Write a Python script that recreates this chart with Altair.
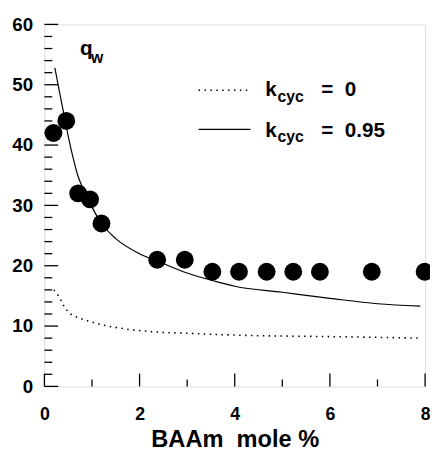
import altair as alt
import pandas as pd

# data points (BAAm mole %, q_w)
dots_x = [0.19, 0.46, 0.71, 0.96, 1.2, 2.37, 2.95, 3.53, 4.09, 4.67, 5.23, 5.79, 6.88, 7.99]
dots_y = [42, 44, 32, 31, 27, 21, 21, 19, 19, 19, 19, 19, 19, 19]

# k_cyc = 0.95 (solid)
solid_x = [0.22, 0.3, 0.4, 0.5, 0.6, 0.7, 0.8, 0.95, 1.2, 1.5, 2.0, 2.4, 3.0, 3.6, 4.0, 5.0, 6.0, 7.0, 7.9]
solid_y = [52.8, 49.5, 45.5, 41.5, 38.0, 35.0, 33.0, 30.5, 27.0, 24.5, 22.0, 20.7, 18.8, 17.4, 16.6, 15.6, 14.6, 13.7, 13.3]

# k_cyc = 0 (dotted)
dot_x = [0.2, 0.3, 0.43, 0.55, 0.7, 0.9, 1.1, 1.4, 1.8, 2.2, 2.6, 3.0, 3.6, 4.5, 5.5, 6.5, 7.9]
dot_y = [16.0, 15.0, 13.0, 12.0, 11.4, 10.9, 10.4, 9.9, 9.4, 9.1, 8.9, 8.8, 8.6, 8.4, 8.3, 8.2, 8.0]

# tick positions
x_major = [0, 2, 4, 6, 8]
x_minor = [1, 3, 5, 7]
y_major = [0, 10, 20, 30, 40, 50, 60]
y_minor = [2, 4, 6, 8, 12, 14, 16, 18, 22, 24, 26, 28, 32, 34, 36, 38, 42, 44, 46, 48, 52, 54, 56, 58]

# legend / label text
NB = "\u00a0"
legend_big = ["k", "=" + NB + NB + "0", "k", "=" + NB + NB + "0.95", "q"]
legend_big_x = [4.64, 5.82, 4.64, 5.82, 0.75]
legend_big_y = [48.1, 48.1, 41.4, 41.4, 55.0]
legend_small = ["cyc", "cyc", "w"]
legend_small_x = [4.9, 4.9, 0.98]
legend_small_y = [47.2, 40.5, 53.6]
legend_line_x = [3.24, 3.24]
legend_line_x2 = [4.33, 4.33]
legend_line_y = [49.1, 42.6]

FONT = "Liberation Sans"
W, H = 387, 368

xs = alt.Scale(domain=[0, 8], nice=False)
ys = alt.Scale(domain=[0, 60], nice=False)

x_axis = alt.Axis(values=x_major, format="d", ticks=False, grid=False, domain=False,
                  labelFont=FONT, labelFontWeight="bold", labelFontSize=18, labelPadding=20,
                  labelColor="black", title="BAAm" + NB + NB + "mole %", titleFont=FONT,
                  titleFontWeight="bold", titleFontSize=24, titleColor="black", titleY=61,
                  titleBaseline="alphabetic", labelFlush=False)
y_axis = alt.Axis(values=y_major, format="d", ticks=False, grid=False, domain=False,
                  labelFont=FONT, labelFontWeight="bold", labelFontSize=19, labelPadding=12,
                  labelColor="black", title=None, labelFlush=False)

df_dots = pd.DataFrame({"x": dots_x, "y": dots_y})
df_solid = pd.DataFrame({"x": solid_x, "y": solid_y})
df_dotted = pd.DataFrame({"x": dot_x, "y": dot_y})

base_axes = alt.Chart(df_dots).mark_point(opacity=0).encode(
    x=alt.X("x:Q", scale=xs, axis=x_axis),
    y=alt.Y("y:Q", scale=ys, axis=y_axis),
)

dotted = alt.Chart(df_dotted).mark_line(color="black", strokeWidth=1.6, strokeDash=[1.5, 4.5]).encode(
    x=alt.X("x:Q", scale=xs), y=alt.Y("y:Q", scale=ys))
solid = alt.Chart(df_solid).mark_line(color="black", strokeWidth=1.2, interpolate="monotone").encode(
    x=alt.X("x:Q", scale=xs), y=alt.Y("y:Q", scale=ys))
points = alt.Chart(df_dots).mark_circle(color="black", opacity=1, size=330).encode(
    x=alt.X("x:Q", scale=xs), y=alt.Y("y:Q", scale=ys))

ymaj = alt.Chart(pd.DataFrame({"v": y_major})).mark_rule(color="black", strokeWidth=1.3).encode(
    y=alt.Y("v:Q", scale=ys), x=alt.value(0), x2=alt.value(14))
ymin = alt.Chart(pd.DataFrame({"v": y_minor})).mark_rule(color="black", strokeWidth=1.3).encode(
    y=alt.Y("v:Q", scale=ys), x=alt.value(0), x2=alt.value(8))
xmaj = alt.Chart(pd.DataFrame({"v": x_major})).mark_rule(color="black", strokeWidth=1.3).encode(
    x=alt.X("v:Q", scale=xs), y=alt.value(H), y2=alt.value(H - 13))
xmin = alt.Chart(pd.DataFrame({"v": x_minor})).mark_rule(color="black", strokeWidth=1.3).encode(
    x=alt.X("v:Q", scale=xs), y=alt.value(H), y2=alt.value(H - 7))

df_leg = pd.DataFrame({"x": legend_line_x, "x2": legend_line_x2, "y": legend_line_y,
                       "k": ["0", "0.95"]})
leg_dotted = alt.Chart(df_leg[df_leg.k == "0"]).mark_rule(color="black", strokeWidth=1.6, strokeDash=[1.5, 4.5]).encode(
    x=alt.X("x:Q", scale=xs), x2="x2:Q", y=alt.Y("y:Q", scale=ys))
leg_solid = alt.Chart(df_leg[df_leg.k == "0.95"]).mark_rule(color="black", strokeWidth=1.2).encode(
    x=alt.X("x:Q", scale=xs), x2="x2:Q", y=alt.Y("y:Q", scale=ys))

df_big = pd.DataFrame({"x": legend_big_x, "y": legend_big_y, "t": legend_big})
df_small = pd.DataFrame({"x": legend_small_x, "y": legend_small_y, "t": legend_small})
big_text = alt.Chart(df_big).mark_text(font=FONT, fontWeight="bold", fontSize=21, align="left",
                                        baseline="alphabetic", color="black").encode(
    x=alt.X("x:Q", scale=xs), y=alt.Y("y:Q", scale=ys), text="t:N")
small_text = alt.Chart(df_small).mark_text(font=FONT, fontWeight="bold", fontSize=16, align="left",
                                            baseline="alphabetic", color="black").encode(
    x=alt.X("x:Q", scale=xs), y=alt.Y("y:Q", scale=ys), text="t:N")

chart = alt.layer(
    base_axes, dotted, solid, points, ymaj, ymin, xmaj, xmin,
    leg_dotted, leg_solid, big_text, small_text
).properties(
    width=W, height=H,
    autosize=alt.AutoSizeParams(type="none"),
    padding={"left": 37, "top": 13, "right": 5, "bottom": 62},
).configure_view(
    stroke="black", strokeWidth=1.6
).configure(background="white")

chart.save("out.html", embed_options={"renderer": "svg", "actions": False})
